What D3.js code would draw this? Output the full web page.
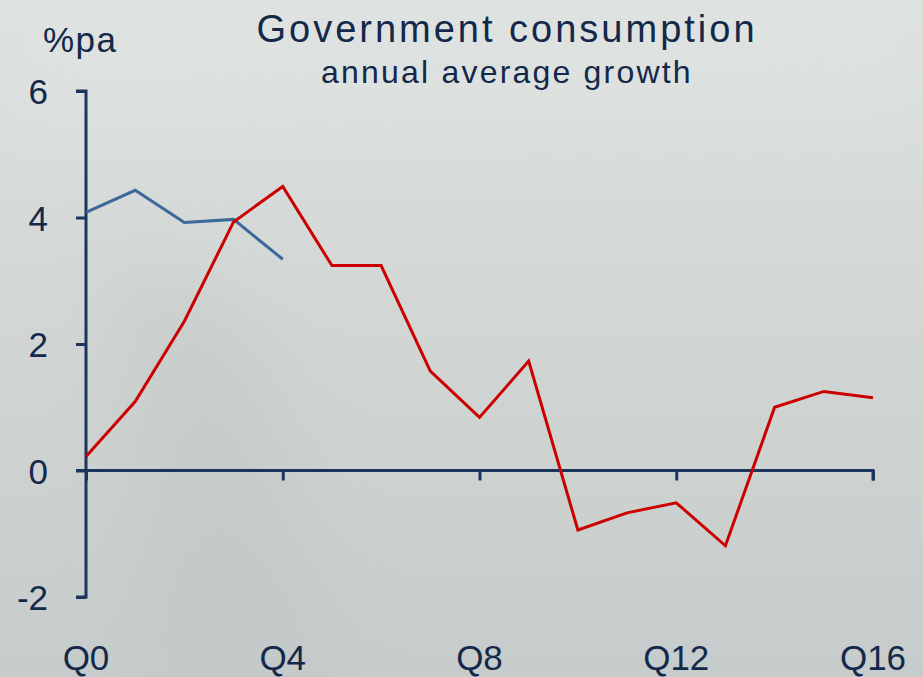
<!DOCTYPE html>
<html><head><meta charset="utf-8">
<script src="https://cdn.jsdelivr.net/npm/d3@7"></script>
<style>
html,body{margin:0;padding:0;overflow:hidden;}
svg{display:block;}
text{font-family:"Liberation Sans",Arial,sans-serif;fill:#14284a;}
</style></head>
<body>
<script>
const categories = ["Q0","Q1","Q2","Q3","Q4","Q5","Q6","Q7","Q8","Q9","Q10","Q11","Q12","Q13","Q14","Q15","Q16"];
const redSeries = [0.22,1.09,2.36,3.93,4.49,3.24,3.24,1.57,0.84,1.73,-0.94,-0.67,-0.51,-1.19,1.0,1.25,1.15];
const blueSeries = [4.08,4.43,3.92,3.97,3.34];
const xTickLabels = ["Q0","Q4","Q8","Q12","Q16"];
const yTickValues = [-2,0,2,4,6];
const title = "Government consumption";
const subtitle = "annual average growth";
const unitLabel = "%pa";

const W = 923, H = 677;
const svg = d3.select("body").append("svg").attr("width", W).attr("height", H);

const defs = svg.append("defs");
const g1 = defs.append("linearGradient").attr("id","bg").attr("x1","0").attr("y1","0").attr("x2","0").attr("y2","1");
g1.append("stop").attr("offset","0").attr("stop-color","#dde2e0");
g1.append("stop").attr("offset","0.5").attr("stop-color","#d1d6d4");
g1.append("stop").attr("offset","1").attr("stop-color","#c6cccb");
const blur = defs.append("filter").attr("id","blur").attr("x","-50%").attr("y","-50%").attr("width","200%").attr("height","200%");
blur.append("feGaussianBlur").attr("stdDeviation", 40);

svg.append("rect").attr("width",W).attr("height",H).attr("fill","url(#bg)");
svg.append("path").attr("d","M120,250 L260,330 L330,677 L150,677 Z").attr("fill","#b9bfbe").attr("opacity",0.35).attr("filter","url(#blur)");
svg.append("path").attr("d","M0,0 L923,0 L923,120 L0,140 Z").attr("fill","#e3e7e5").attr("opacity",0.35).attr("filter","url(#blur)");

const x = d3.scaleLinear().domain([0,16]).range([86,873]);
const y = d3.scaleLinear().domain([-2,6]).range([597,91]);
const axisColor = "#1b355c";

// Y axis
const yAxis = svg.append("g").attr("transform","translate(86,0)")
  .call(d3.axisLeft(y).tickValues(yTickValues).tickSize(10).tickPadding(28).tickFormat(d => String(d)));
yAxis.select(".domain").attr("stroke",axisColor).attr("stroke-width",3).attr("d", `M-10,${y(6)}H0V${y(-2)}H-10`);
yAxis.selectAll(".tick line").attr("stroke",axisColor).attr("stroke-width",3);
yAxis.selectAll(".tick text").attr("font-size",35).attr("fill","#14284a").attr("font-family","Liberation Sans, Arial, sans-serif").attr("dy","0.36em");

// X axis at zero
const xAxis = svg.append("g").attr("transform",`translate(0,${y(0)})`)
  .call(d3.axisBottom(x).tickValues([0,4,8,12,16]).tickSize(10).tickFormat(() => ""));
xAxis.select(".domain").attr("stroke",axisColor).attr("stroke-width",3).attr("d", `M76,0H${x(16)}V10`);
xAxis.selectAll(".tick line").attr("stroke",axisColor).attr("stroke-width",3);

// X tick labels at bottom
svg.append("g").selectAll("text").data(xTickLabels).join("text")
  .attr("x",(d,i)=>x(i*4)).attr("y",670).attr("text-anchor","middle")
  .attr("font-size",35).text(d=>d);

// lines
const line = d3.line().x((d,i)=>x(i)).y(d=>y(d));
svg.append("path").datum(blueSeries).attr("d",line).attr("fill","none").attr("stroke","#3d689c").attr("stroke-width",3);
svg.append("path").datum(redSeries).attr("d",line).attr("fill","none").attr("stroke","#cc0000").attr("stroke-width",3).attr("stroke-linejoin","miter");

// titles
svg.append("text").attr("x",507).attr("y",42).attr("text-anchor","middle").attr("font-size",38).attr("letter-spacing",3).text(title);
svg.append("text").attr("x",507).attr("y",83).attr("text-anchor","middle").attr("font-size",32).attr("letter-spacing",2.2).text(subtitle);
svg.append("text").attr("x",43).attr("y",52).attr("font-size",35).attr("letter-spacing",1.5).text(unitLabel);
</script>
</body></html>
